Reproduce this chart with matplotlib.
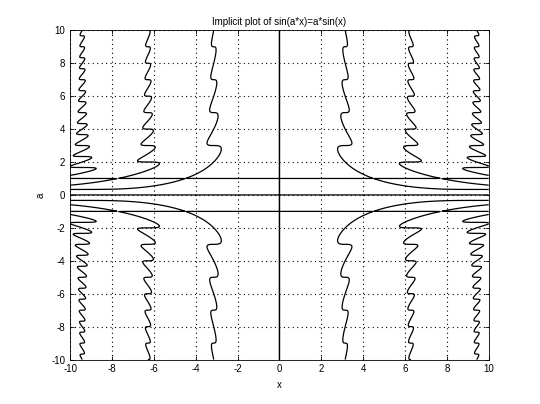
import numpy as np
import matplotlib
matplotlib.use("Agg")
import matplotlib.pyplot as plt

plt.rcParams['font.family'] = ['Liberation Sans', 'DejaVu Sans']
plt.rcParams['axes.unicode_minus'] = False

title = "Implicit plot of sin(a*x)=a*sin(x)"
x_label = "x"
y_label = "a"
x_limits = [-10, 10]
a_limits = [-10, 10]
x_ticks = [-10, -8, -6, -4, -2, 0, 2, 4, 6, 8, 10]
a_ticks = [-10, -8, -6, -4, -2, 0, 2, 4, 6, 8, 10]
grid_points = 900
# x = 0 is a double root of the equation, so contour cannot trace it; drawn explicitly
extra_vertical_roots = [0]

fig = plt.figure(figsize=(5.4, 4.04), dpi=100)
ax = fig.add_axes([0.13, 0.11, 0.775, 0.815])

xs = np.linspace(x_limits[0], x_limits[1], grid_points)
as_ = np.linspace(a_limits[0], a_limits[1], grid_points)
X, A = np.meshgrid(xs, as_)
F = np.sin(A * X) - A * np.sin(X)
ax.contour(X, A, F, levels=[0], colors='black', linewidths=0.9)
for xv in extra_vertical_roots:
    ax.plot([xv, xv], a_limits, color='black', linewidth=0.9)

ax.set_xlim(x_limits)
ax.set_ylim(a_limits)
ax.set_xticks(x_ticks)
ax.set_yticks(a_ticks)
ax.tick_params(direction='in', top=True, right=True, labelsize=7, length=3, width=0.6)
ax.grid(True, linestyle=(0, (1, 3)), color='black', linewidth=0.8)
for s in ax.spines.values():
    s.set_linewidth(0.6)
ax.set_title(title, fontsize=7, pad=4)
ax.set_xlabel(x_label, fontsize=7)
ax.set_ylabel(y_label, fontsize=7)

fig.savefig("out.png", dpi=100)
